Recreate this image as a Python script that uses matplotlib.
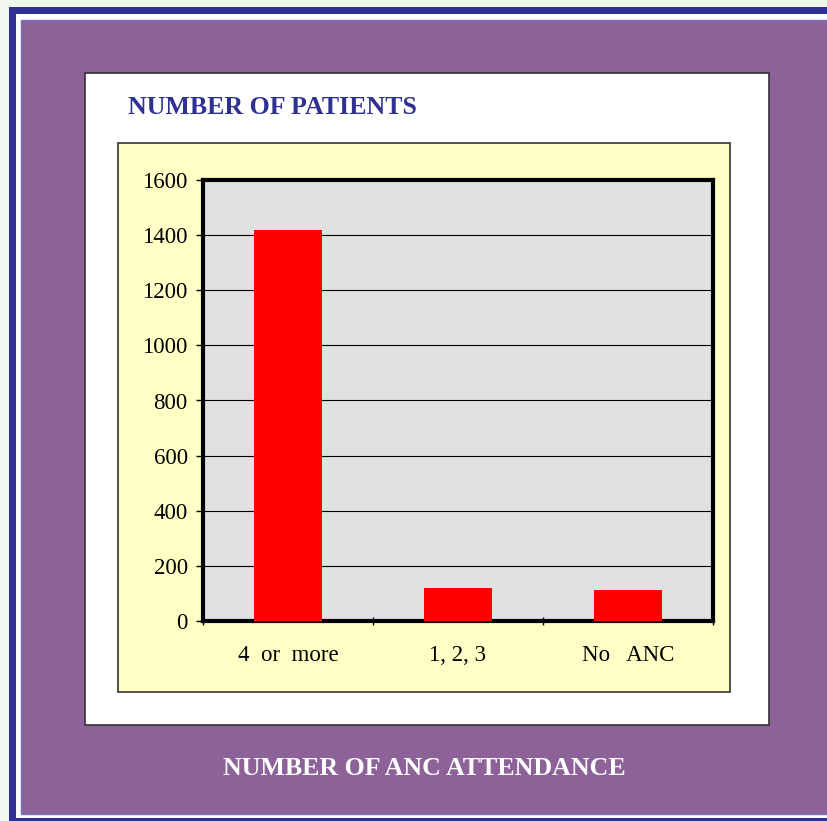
import matplotlib.pyplot as plt
from matplotlib.patches import Rectangle

categories = ["4  or  more", "1, 2, 3", "No   ANC"]
patients = [1420, 120, 113]
y_ticks = [0, 200, 400, 600, 800, 1000, 1200, 1400, 1600]

W, H = 828, 821
navy = "#2E3192"
purple = "#8C6299"
yellow = "#FFFFC6"
grey = "#E1E1E1"

plt.rcParams['font.family'] = ['Liberation Serif', 'DejaVu Serif']

fig = plt.figure(figsize=(W / 100, H / 100), dpi=100)
fig.patch.set_facecolor("#F0F7EE")


def box(x0, y0, x1, y1, **kw):
    # pixel coords, y measured from top; drawn under the axes
    fig.patches.append(Rectangle((x0 / W, 1 - y1 / H), (x1 - x0) / W, (y1 - y0) / H,
                                 transform=fig.transFigure, zorder=-5, **kw))


# frame: navy border, white gap, purple panel
box(9, 7, W + 5, H + 5, facecolor=navy, edgecolor="none")
box(16, 14, W + 5, 818, facecolor="white", edgecolor="none")
box(21, 20, W + 5, 814, facecolor=purple, edgecolor="#6F74C0", linewidth=1)
# white chart area and yellow plot area
box(85, 73, 769, 725, facecolor="white", edgecolor="#333333", linewidth=1.2)
box(118, 143, 730, 692, facecolor=yellow, edgecolor="#333333", linewidth=1.2)

fig.text(128 / W, 1 - 107 / H, "NUMBER OF PATIENTS", color=navy, fontsize=18.6,
         fontweight="bold", ha="left", va="center")
fig.text(424 / W, 1 - 768 / H, "NUMBER OF ANC ATTENDANCE", color="white", fontsize=18.6,
         fontweight="bold", ha="center", va="center")

ax = fig.add_axes([203 / W, 1 - 621 / H, 510 / W, 441 / H])
ax.set_facecolor(grey)
x = list(range(len(categories)))
ax.bar(x, patients, width=0.4, color="red", zorder=3)

ax.set_ylim(0, 1600)
ax.set_yticks(y_ticks)
ax.set_xlim(-0.5, len(categories) - 0.5)
ax.set_xticks(x)
ax.set_xticklabels(categories)
ax.set_xticks([i - 0.5 for i in range(len(categories) + 1)], minor=True)
ax.tick_params(axis="x", which="major", length=0, pad=17, labelsize=16.5)
ax.tick_params(axis="x", which="minor", length=6, width=1, direction="inout")
ax.tick_params(axis="y", length=5, width=1, pad=6, labelsize=16.5)
ax.yaxis.grid(True, color="black", linewidth=0.8, zorder=1)
ax.set_axisbelow(True)
for s in ax.spines.values():
    s.set_linewidth(3)
    s.set_color("black")

fig.savefig("out.png", dpi=100, facecolor=fig.get_facecolor())
